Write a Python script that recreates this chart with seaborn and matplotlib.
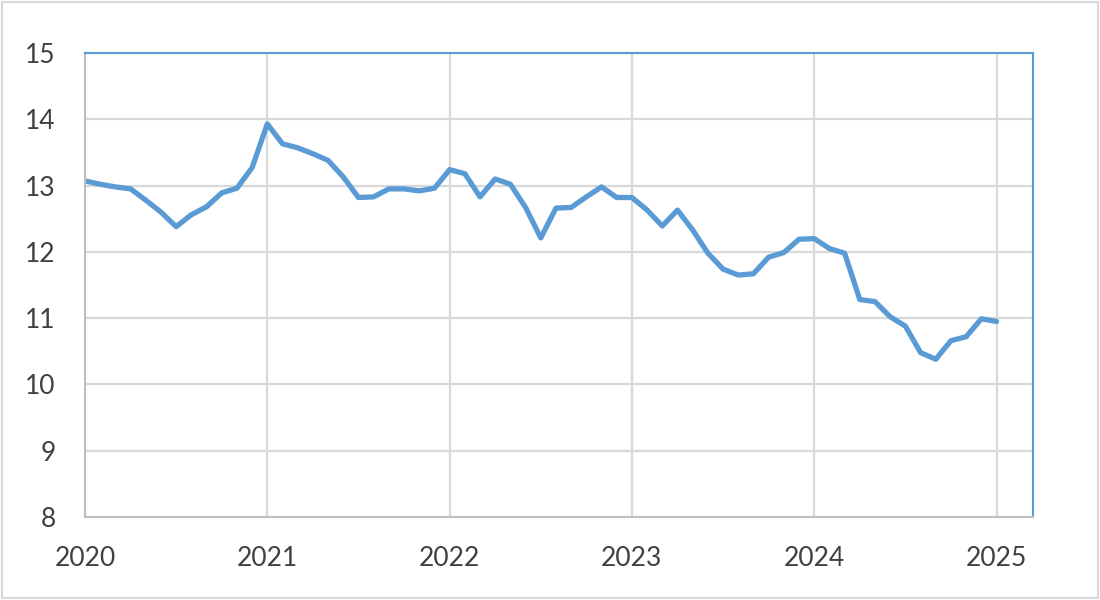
import numpy as np
import pandas as pd
import matplotlib.pyplot as plt
import seaborn as sns
from matplotlib.patches import Rectangle

# monthly values, Jan 2020 .. Jan 2025
values_2020 = [13.07, 13.02, 12.98, 12.95, 12.78, 12.60, 12.38, 12.56, 12.68, 12.89, 12.96, 13.27]
values_2021 = [13.93, 13.63, 13.57, 13.48, 13.38, 13.13, 12.82, 12.83, 12.95, 12.95, 12.92, 12.96]
values_2022 = [13.24, 13.18, 12.83, 13.10, 13.02, 12.67, 12.21, 12.66, 12.67, 12.83, 12.98, 12.82]
values_2023 = [12.82, 12.63, 12.39, 12.63, 12.33, 11.98, 11.74, 11.65, 11.67, 11.92, 11.99, 12.19]
values_2024 = [12.20, 12.05, 11.98, 11.28, 11.25, 11.02, 10.88, 10.48, 10.38, 10.66, 10.72, 10.99]
values_2025 = [10.95]

year_ticks = [2020, 2021, 2022, 2023, 2024, 2025]
y_ticks = [8, 9, 10, 11, 12, 13, 14, 15]

values = values_2020 + values_2021 + values_2022 + values_2023 + values_2024 + values_2025
df = pd.DataFrame({"t": 2020 + np.arange(len(values)) / 12, "value": values})

sns.set_theme(style="whitegrid")
plt.rcParams["font.family"] = ["Lato", "DejaVu Sans"]

line_color = "#5b9bd5"
grid_color = "#d9d9d9"

fig = plt.figure(figsize=(11, 6), dpi=100)
ax = fig.add_axes([85 / 1100, 1 - 517 / 600, (1033 - 85) / 1100, (517 - 53) / 600])

sns.lineplot(data=df, x="t", y="value", ax=ax, color=line_color, linewidth=3.8)

ax.set_xlim(2020, 2025.2)
ax.set_ylim(8, 15)
ax.set_xticks(year_ticks)
ax.set_xticklabels([str(y) for y in year_ticks])
ax.set_yticks(y_ticks)
ax.set_xlabel("")
ax.set_ylabel("")

ax.grid(True, color=grid_color, linewidth=1.6)
ax.tick_params(axis="both", length=0, labelsize=19, colors="#404040")
ax.tick_params(axis="y", pad=21)
ax.tick_params(axis="x", pad=21)

for side in ["top", "right"]:
    ax.spines[side].set_color(line_color)
    ax.spines[side].set_linewidth(1.5)
for side in ["left", "bottom"]:
    ax.spines[side].set_color("#bfbfbf")
    ax.spines[side].set_linewidth(1.5)
    ax.spines[side].set_visible(True)

# thin border around the whole figure
fig.patches.append(Rectangle((0.002, 0.003), 0.996, 0.994, transform=fig.transFigure,
                             fill=False, edgecolor="#d9d9d9", linewidth=1.5))

fig.savefig("out.png", dpi=100)
